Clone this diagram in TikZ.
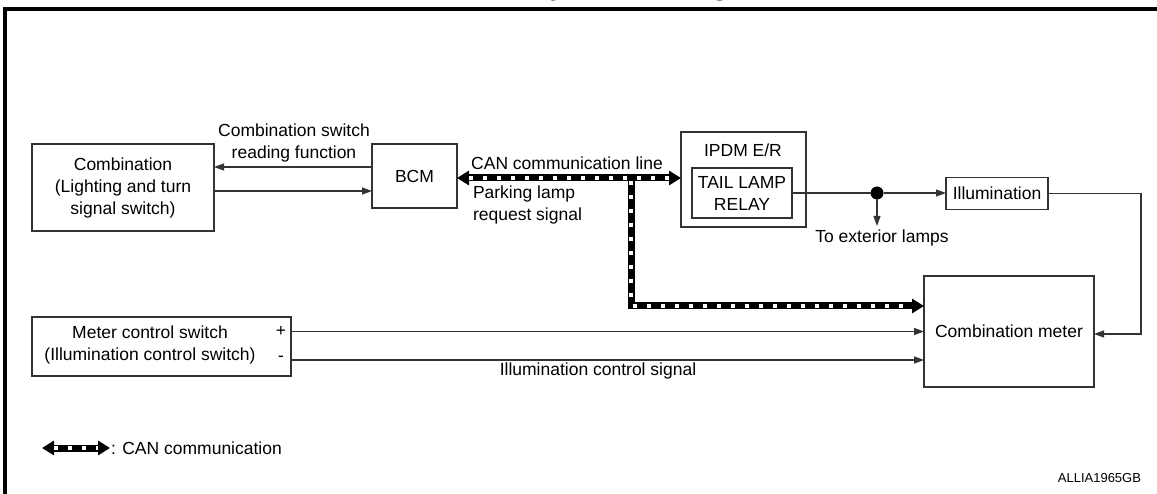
\documentclass[tikz,border=0pt]{standalone}
\usepackage{fontspec}
\setmainfont{Liberation Sans}
\usetikzlibrary{arrows.meta,calc}
\tikzset{cantip/.tip={Triangle[length=12pt,width=14pt]}}
\begin{document}
\begin{tikzpicture}[x=1pt,y=-1pt,
  every node/.style={font=\fontsize{17.5}{22}\selectfont, inner sep=0pt, outer sep=0pt},
  box/.style={draw=black!80, line width=1.1pt, align=center},
  wire/.style={draw=black!80, line width=1.1pt},
  arr/.style={wire, -{Triangle[length=10pt,width=7pt]}},
  canbase/.style={line width=7pt, black},
  canfill/.style={line width=3.4pt, white, dash pattern=on 4pt off 10pt},
]
\useasboundingbox (0,0) rectangle (1157,494);
% frame
\draw[line width=4pt] (5,494) -- (5,9.5) -- (1157,9.5);
\node[anchor=base west, font=\fontsize{36}{40}\selectfont] (title) at (526,-6) {System Diagram};

% boxes
\node[box, minimum width=182pt, minimum height=87pt] (combo) at (123,187.5)
  {Combination\\(Lighting and turn\\signal switch)};
\node[box, minimum width=85pt, minimum height=64pt] (bcm) at (414.5,176) {BCM};
\node[box, minimum width=125pt, minimum height=95pt] (ipdm) at (743.5,179.5) {};
\node (ipdmtxt) at (743,150) {IPDM E/R};
\node[box, minimum width=100pt, minimum height=50pt] (relay) at (742,193) {TAIL LAMP\\RELAY};
\node[box, minimum width=102pt, minimum height=32pt] (illum) at (997,193.5) {Illumination};
\node[box, minimum width=170pt, minimum height=111pt] (meter) at (1009,331.5) {Combination meter};
\node[box, minimum width=259pt, minimum height=59pt] (msw) at (161.5,346.5) {};
\node[align=center] (mswtxt) at (150,345) {Meter control switch\\(Illumination control switch)};
\node (plus) at (281,331) {+};
\node (minus) at (281,359) {-};

% combo <-> BCM
\node[align=center] (lbl1) at (294,142.5) {Combination switch\\reading function};
\draw[arr] (bcm.west |- 0,167) -- (combo.east |- 0,167);
\draw[arr] (combo.east |- 0,191) -- (bcm.west |- 0,191);

% CAN line
\draw[canbase, cantip-cantip] (bcm.east |- 0,178) -- (ipdm.west |- 0,178);
\draw[canfill, shorten <=12pt, shorten >=12pt] (bcm.east |- 0,178) -- (ipdm.west |- 0,178);
\coordinate (cj) at (631,178);
\coordinate (cc) at (631,306);
\draw[canbase, -cantip] (cj) -- (cc) -- (meter.west |- cc);
\draw[canfill, shorten >=12pt] ($(cj)+(0,3.5)$) -- (cc) -- (meter.west |- cc);
\node (canlbl) at (567,163) {CAN communication line};
\node[anchor=west, align=left] (plrs) at (473,204.5) {Parking lamp\\request signal};

% relay -> illumination
\node[circle, fill=black, minimum size=13pt] (jn) at (877,193) {};
\draw[wire] (relay.east) -- (jn);
\draw[arr] (jn) -- (illum.west |- jn);
\coordinate (ext) at (877,226);
\draw[arr] (jn) -- (ext);
\node (extlbl) at (882,238) {To exterior lamps};
\coordinate (rc) at (1141,0);
\draw[arr] (illum.east) -- (illum.east -| rc) -- (rc |- 0,334) -- (meter.east |- 0,334);

% meter control switch -> meter
\draw[arr] (msw.east |- 0,331.5) -- (meter.west |- 0,331.5);
\draw[arr] (msw.east |- 0,360) -- (meter.west |- 0,360);
\node (icsig) at (598,371) {Illumination control signal};

% legend
\coordinate (lg1) at (42,448);
\coordinate (lg2) at (110,448);
\draw[canbase, cantip-cantip] (lg1) -- (lg2);
\draw[canfill, shorten <=12pt, shorten >=12pt] (lg1) -- (lg2);
\node[anchor=west] (lgtxt) at (111,448) {: CAN communication};
\node[anchor=east, font=\fontsize{13}{15}\selectfont] (code) at (1141,478) {ALLIA1965GB};
\end{tikzpicture}
\end{document}
